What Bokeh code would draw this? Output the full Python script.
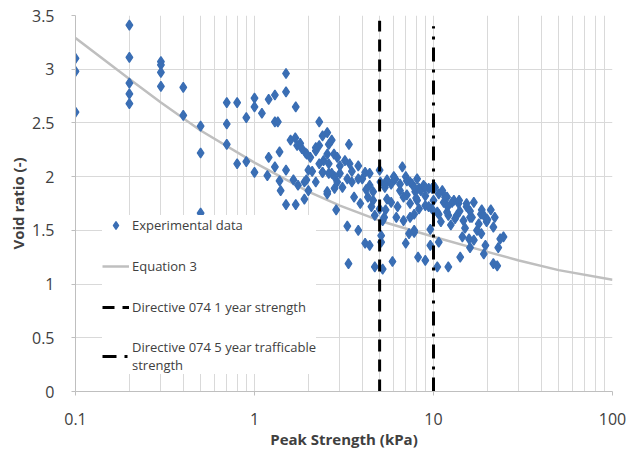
from bokeh.plotting import figure
from bokeh.models import Legend, LegendItem, FixedTicker
from bokeh.embed import file_html
from bokeh.resources import INLINE

# ---- data ----
exp_strength = [
    0.1, 0.1, 0.1,
    0.2, 0.2, 0.2, 0.2, 0.2,
    0.3, 0.3, 0.3, 0.3,
    0.4, 0.4,
    0.5, 0.5, 0.5,
    0.7, 0.7, 0.7, 0.8, 0.8, 0.9, 0.9,
    1.0, 1.0, 1.0, 1.1, 1.2, 1.2, 1.18,
    1.3, 1.3, 1.3, 1.35, 1.38, 1.38, 1.4,
    1.5, 1.5, 1.5, 1.5, 1.7, 1.7,
    1.59, 1.69, 1.73, 1.84, 1.93, 2.05, 2.2, 2.3,
    1.8, 1.96, 2.2, 2.3, 2.4, 2.55, 2.6, 1.9, 2.0, 1.9, 2.55, 1.95, 2.0,
    2.3, 2.4, 2.55, 2.7, 3.37, 2.78, 2.9, 2.43, 2.6, 2.4, 2.7, 3.0, 3.3, 3.5, 3.8,
    4.15, 4.4, 4.6, 5.0, 5.05, 5.35, 5.8, 6.1, 6.7, 7.0, 7.4, 8.1, 6.5, 7.1, 7.9,
    2.55, 2.8, 3.6, 4.3, 5.5, 2.86, 4.7, 5.2, 5.4, 6.2, 6.8, 7.4,
    3.3, 3.8, 5.1, 5.1, 4.15, 4.4, 7.3, 7.8, 7.0,
    3.35, 4.7, 5.2, 5.9, 8.2,
    3.0, 3.2, 3.5, 3.8, 4.0, 2.9, 3.1, 4.2, 1.65, 1.75, 2.1, 2.2,
    7.6, 8.3, 8.8, 9.4, 10.2, 11.2, 11.9, 11.4, 13.0, 13.8, 15.3, 16.8, 18.4, 20.9,
    8.1, 9.0, 9.8, 10.7, 12.1, 13.2, 14.7, 16.4, 17.9, 19.8, 21.6,
    7.8, 7.8, 9.6, 14.5, 15.8, 16.8, 16.0, 23.6, 24.6, 23.0, 19.5, 19.1, 21.6, 22.7,
    14.1, 9.0, 10.5, 12.1, 10.7, 9.6,
    4.4, 5.35, 6.1, 7.1, 7.8, 8.5, 9.0, 9.8, 10.7, 11.6, 12.7, 13.9, 15.3, 18.6,
    6.8, 7.4, 8.3, 9.4, 10.5, 11.9, 13.5, 16.0, 19.1,
    4.6, 5.0, 5.8, 6.3, 5.3,
    17.5, 18.5, 15.0, 12.5, 11.0, 14.0, 16.0, 20.0, 22.0, 12.0, 10.0, 9.0, 8.0,
    6.5, 6.0, 5.5, 3.4, 2.6, 2.8, 3.9, 4.5,
]
exp_void = [
    3.10, 2.98, 2.60,
    3.41, 3.11, 2.87, 2.77, 2.68,
    3.07, 3.04, 2.97, 2.84,
    2.83, 2.57,
    2.47, 2.22, 1.66,
    2.69, 2.49, 2.30, 2.69, 2.12, 2.55, 2.14,
    2.73, 2.65, 2.04, 2.59, 2.72, 2.18, 2.01,
    2.76, 2.51, 2.09, 2.51, 2.23, 1.96, 1.87,
    2.96, 2.79, 2.06, 1.74, 2.65, 1.74,
    2.34, 2.36, 2.29, 2.26, 2.22, 2.18, 2.24, 2.29,
    2.31, 2.21, 2.27, 2.12, 2.04, 2.21, 2.03, 1.95, 1.87, 1.79, 1.84, 1.97, 2.06,
    2.51, 2.38, 2.41, 2.34, 2.30, 2.21, 2.18, 2.15, 2.12, 2.04, 2.03, 2.03, 1.98, 1.95, 1.98,
    2.04, 1.92, 1.86, 2.06, 1.95, 1.90, 1.93, 1.98, 2.09, 2.00, 1.95, 1.98, 1.87, 1.83, 1.86,
    1.86, 1.89, 1.81, 1.81, 1.79, 1.69, 1.64, 1.59, 1.69, 1.62, 1.59, 1.62,
    1.54, 1.50, 1.45, 1.39, 1.38, 1.36, 1.47, 1.50, 1.38,
    1.19, 1.16, 1.14, 1.21, 1.25,
    2.10, 2.15, 2.05, 2.10, 1.98, 1.95, 1.90, 1.88, 1.97, 1.92, 2.05, 1.95,
    1.93, 1.89, 1.92, 1.89, 1.90, 1.87, 1.81, 1.76, 1.78, 1.75, 1.72, 1.76, 1.65, 1.69,
    1.78, 1.73, 1.70, 1.65, 1.64, 1.61, 1.59, 1.62, 1.56, 1.58, 1.53,
    1.65, 1.48, 1.51, 1.44, 1.42, 1.41, 1.34, 1.42, 1.44, 1.34, 1.36, 1.28, 1.19, 1.17,
    1.25, 1.22, 1.16, 1.16, 1.39, 1.36,
    2.03, 1.93, 1.98, 1.96, 1.90, 1.87, 1.90, 1.89, 1.84, 1.81, 1.76, 1.78, 1.75, 1.69,
    1.81, 1.75, 1.70, 1.72, 1.67, 1.67, 1.64, 1.62, 1.64,
    1.78, 1.70, 1.76, 1.72, 1.62,
    1.50, 1.47, 1.52, 1.55, 1.58, 1.68, 1.68, 1.60, 1.62, 1.72, 1.78, 1.82, 1.80,
    1.93, 2.00, 1.97, 2.12, 2.30, 2.00, 1.75, 1.72,
]

eq3_strength = [0.1, 0.2, 0.3, 0.5, 1, 2, 3, 5, 10, 20, 30, 50, 100]
eq3_void = [3.29, 2.91, 2.69, 2.43, 2.13, 1.86, 1.73, 1.59, 1.44, 1.30, 1.22, 1.13, 1.04]

dir1_strength = [5, 5]
dir1_void = [0, 3.45]
dir5_strength = [10, 10]
dir5_void = [0, 3.40]

x_ticks = [0.1, 1, 10, 100]
x_tick_labels = ["0.1", "1", "10", "100"]
x_minor_ticks = [0.2, 0.3, 0.4, 0.5, 0.6, 0.7, 0.8, 0.9,
                 2, 3, 4, 5, 6, 7, 8, 9,
                 20, 30, 40, 50, 60, 70, 80, 90]
y_ticks = [0, 0.5, 1, 1.5, 2, 2.5, 3, 3.5]
y_tick_labels = ["0", "0.5", "1", "1.5", "2", "2.5", "3", "3.5"]

legend_labels = ["Experimental data", "Equation 3",
                 "Directive 074 1 year strength",
                 "Directive 074 5 year trafficable\nstrength"]

# ---- figure ----
GRID = "#d9d9d9"
TXT = "#404040"
FONT = "Open Sans"

p = figure(width=636, height=451, x_axis_type="log",
           x_range=(0.1, 100), y_range=(0, 3.5),
           output_backend="svg", toolbar_location=None,
           min_border_left=75, min_border_right=24,
           min_border_top=15, min_border_bottom=60)
p.outline_line_color = None
p.background_fill_color = "white"

p.xaxis.ticker = FixedTicker(ticks=x_ticks, minor_ticks=x_minor_ticks)
p.xaxis.major_label_overrides = dict(zip(x_ticks, x_tick_labels))
p.yaxis.ticker = FixedTicker(ticks=y_ticks)
p.yaxis.major_label_overrides = dict(zip(y_ticks, y_tick_labels))

p.xgrid.ticker = FixedTicker(ticks=x_ticks, minor_ticks=x_minor_ticks)
p.ygrid.ticker = FixedTicker(ticks=y_ticks)
p.xgrid.grid_line_color = GRID
p.xgrid.minor_grid_line_color = GRID
p.ygrid.grid_line_color = GRID

for ax in (p.xaxis[0], p.yaxis[0]):
    ax.axis_line_color = "#bfbfbf"
    ax.major_tick_line_color = "#bfbfbf"
    ax.minor_tick_line_color = None
    ax.major_tick_in = 0
    ax.major_tick_out = 4
    ax.major_label_text_font = FONT
    ax.major_label_text_font_size = "16px"
    ax.major_label_text_color = TXT
    ax.axis_label_text_font = FONT
    ax.axis_label_text_font_style = "bold"
    ax.axis_label_text_font_size = "15px"
    ax.axis_label_text_color = "#404040"

p.xaxis.major_label_standoff = 17
p.xaxis.axis_label_standoff = 1
p.yaxis.major_label_standoff = 17
p.yaxis.axis_label_standoff = 1
p.xaxis.axis_label = "Peak Strength (kPa)"
p.yaxis.axis_label = "Void ratio (-)"

r_eq = p.line(eq3_strength, eq3_void, line_color="#bfbfbf", line_width=2.5)
r_exp = p.scatter(exp_strength, exp_void, marker="diamond",
                  size=10, line_width=1.3,
                  fill_color="#3a6eb4", line_color="#3a6eb4")
r_d1 = p.line(dir1_strength, dir1_void, line_color="black", line_width=3,
              line_dash="12 8")
r_d5 = p.line(dir5_strength, dir5_void, line_color="black", line_width=3,
              line_dash="14 8 3 8")

legend = Legend(items=[LegendItem(label=legend_labels[0], renderers=[r_exp]),
                       LegendItem(label=legend_labels[1], renderers=[r_eq]),
                       LegendItem(label=legend_labels[2], renderers=[r_d1]),
                       LegendItem(label=legend_labels[3], renderers=[r_d5])],
                location=(27, 17))
legend.background_fill_color = "white"
legend.background_fill_alpha = 1
legend.border_line_color = None
legend.padding = 10
legend.margin = 0
legend.spacing = 21
legend.glyph_width = 27
legend.glyph_height = 20
legend.label_standoff = 3
legend.label_text_font = FONT
legend.label_text_font_size = "13px"
legend.label_text_color = "#404040"
p.add_layout(legend)

open("out.html", "w").write(file_html(p, INLINE))
